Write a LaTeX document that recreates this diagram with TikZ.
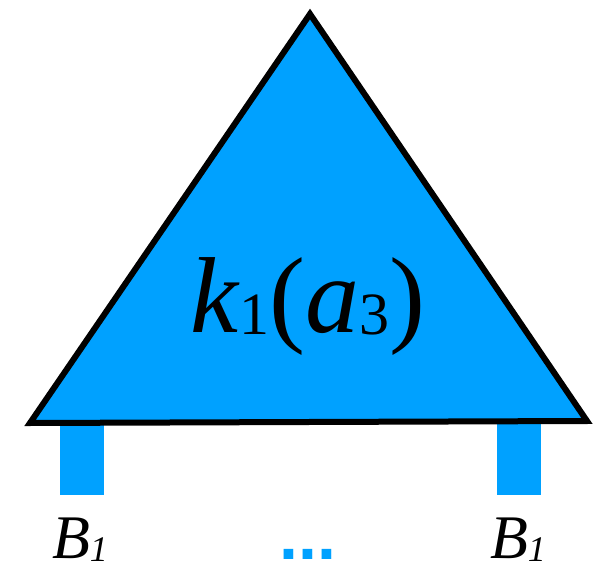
\documentclass[tikz,border=0pt]{standalone}
\usepackage{fontspec}
\setmainfont{Liberation Serif}
\newfontfamily\dotsfont{Liberation Sans}
\usetikzlibrary{positioning}
\definecolor{treeblue}{RGB}{0,161,255}

\begin{document}
\begin{tikzpicture}[
    x=0.5pt, y=-0.5pt,
    bar/.style={fill=treeblue, draw=none},
    edge/.style={draw=black, line join=miter},
    lbl/.style={anchor=base, inner sep=0pt, text depth=0pt}
]
\useasboundingbox (0,0) rectangle (610,572);

% corners of the tree
\coordinate (apex) at (310,14);
\coordinate (bl)   at (30,423);
\coordinate (br)   at (587,421);

% the two leaf stubs
\fill[bar] (60,420) rectangle (104,495);
\fill[bar] (497,420) rectangle (541,495);

% body
\fill[treeblue] (apex) -- (bl) -- (br) -- cycle;
\foreach \dx/\dy/\w in {0/0/3pt, 2/2.5/0.9pt, -1.5/-1.5/0.7pt, 2.5/-2/0.5pt, -2.5/2.5/0.5pt, 1/3.5/0.4pt}
  \draw[edge, line width=\w, shift={(\dx,\dy)}] (apex) -- (bl) -- (br) -- cycle;

\node[lbl, font=\fontsize{54}{60}\selectfont] (tlabel) at (308,332)
  {\textit{k}\raisebox{-1pt}{\fontsize{30}{32}\selectfont 1}(\textit{a}\raisebox{-1pt}{\fontsize{30}{32}\selectfont 3})};

\node[lbl, font=\fontsize{31}{34}\selectfont] (leafL) at (80,558)
  {\textit{B}\raisebox{-1.5pt}{\fontsize{18}{20}\selectfont\textit{1}}};
\node[lbl, font=\fontsize{31}{34}\selectfont] (leafR) at (518,558)
  {\textit{B}\raisebox{-1.5pt}{\fontsize{18}{20}\selectfont\textit{1}}};
\node[lbl, text=treeblue, font=\dotsfont\bfseries\fontsize{34}{38}\selectfont] (gap) at (308,559) {...};
\end{tikzpicture}
\end{document}
